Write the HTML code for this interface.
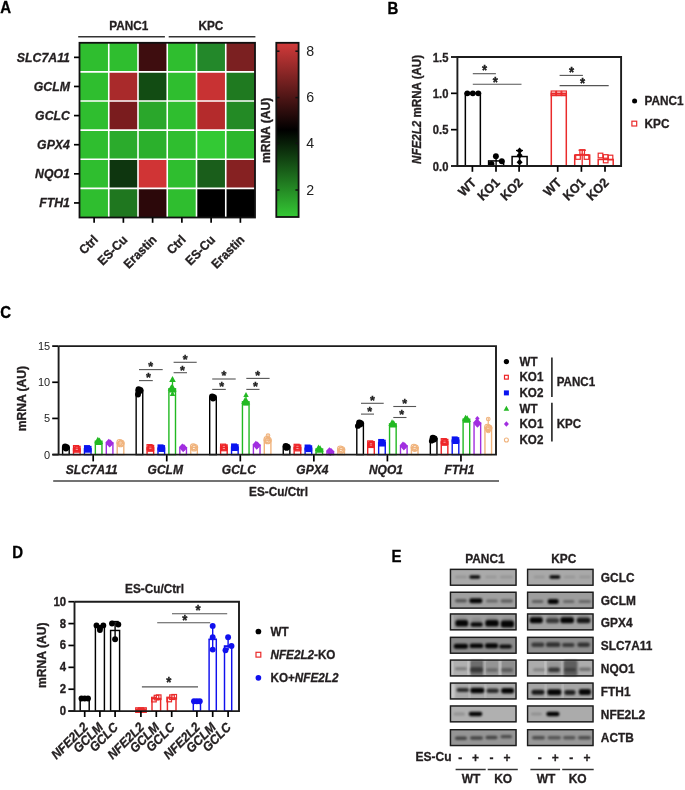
<!DOCTYPE html><html><head><meta charset="utf-8"><title>Figure</title><style>html,body{margin:0;padding:0;background:#fff;}svg{display:block;font-family:'Liberation Sans', Arial, Helvetica, sans-serif;}</style></head><body>
<svg width="685" height="790" viewBox="0 0 685 790">
<rect width="685" height="790" fill="#fff"/>
<text x="0.00" y="0.00" font-size="15.0" font-weight="bold" text-anchor="start" fill="#000" stroke="#000" stroke-width="0.3" transform="translate(0.30,13.40) scale(1,1.06)">A</text>
<rect x="79.50" y="42.80" width="29.25" height="29.12" fill="#2fbe2f" stroke="none" stroke-width="1.5"/>
<rect x="108.75" y="42.80" width="29.25" height="29.12" fill="#2fbe2f" stroke="none" stroke-width="1.5"/>
<rect x="138.00" y="42.80" width="29.25" height="29.12" fill="#3e0d0f" stroke="none" stroke-width="1.5"/>
<rect x="167.25" y="42.80" width="29.25" height="29.12" fill="#2fbe2f" stroke="none" stroke-width="1.5"/>
<rect x="196.50" y="42.80" width="29.25" height="29.12" fill="#23882a" stroke="none" stroke-width="1.5"/>
<rect x="225.75" y="42.80" width="29.25" height="29.12" fill="#7b2021" stroke="none" stroke-width="1.5"/>
<rect x="79.50" y="71.92" width="29.25" height="29.12" fill="#2fbe2f" stroke="none" stroke-width="1.5"/>
<rect x="108.75" y="71.92" width="29.25" height="29.12" fill="#a92a2b" stroke="none" stroke-width="1.5"/>
<rect x="138.00" y="71.92" width="29.25" height="29.12" fill="#124c13" stroke="none" stroke-width="1.5"/>
<rect x="167.25" y="71.92" width="29.25" height="29.12" fill="#2fbe2f" stroke="none" stroke-width="1.5"/>
<rect x="196.50" y="71.92" width="29.25" height="29.12" fill="#c83233" stroke="none" stroke-width="1.5"/>
<rect x="225.75" y="71.92" width="29.25" height="29.12" fill="#1f7a20" stroke="none" stroke-width="1.5"/>
<rect x="79.50" y="101.03" width="29.25" height="29.12" fill="#2fbe2f" stroke="none" stroke-width="1.5"/>
<rect x="108.75" y="101.03" width="29.25" height="29.12" fill="#7a1c1e" stroke="none" stroke-width="1.5"/>
<rect x="138.00" y="101.03" width="29.25" height="29.12" fill="#2aa72b" stroke="none" stroke-width="1.5"/>
<rect x="167.25" y="101.03" width="29.25" height="29.12" fill="#2fbe2f" stroke="none" stroke-width="1.5"/>
<rect x="196.50" y="101.03" width="29.25" height="29.12" fill="#b42b2c" stroke="none" stroke-width="1.5"/>
<rect x="225.75" y="101.03" width="29.25" height="29.12" fill="#238a25" stroke="none" stroke-width="1.5"/>
<rect x="79.50" y="130.15" width="29.25" height="29.12" fill="#2fbe2f" stroke="none" stroke-width="1.5"/>
<rect x="108.75" y="130.15" width="29.25" height="29.12" fill="#2bab2c" stroke="none" stroke-width="1.5"/>
<rect x="138.00" y="130.15" width="29.25" height="29.12" fill="#2bb02c" stroke="none" stroke-width="1.5"/>
<rect x="167.25" y="130.15" width="29.25" height="29.12" fill="#2fbe2f" stroke="none" stroke-width="1.5"/>
<rect x="196.50" y="130.15" width="29.25" height="29.12" fill="#33c934" stroke="none" stroke-width="1.5"/>
<rect x="225.75" y="130.15" width="29.25" height="29.12" fill="#2cb72d" stroke="none" stroke-width="1.5"/>
<rect x="79.50" y="159.27" width="29.25" height="29.12" fill="#2fbe2f" stroke="none" stroke-width="1.5"/>
<rect x="108.75" y="159.27" width="29.25" height="29.12" fill="#0e360f" stroke="none" stroke-width="1.5"/>
<rect x="138.00" y="159.27" width="29.25" height="29.12" fill="#d03435" stroke="none" stroke-width="1.5"/>
<rect x="167.25" y="159.27" width="29.25" height="29.12" fill="#2fbe2f" stroke="none" stroke-width="1.5"/>
<rect x="196.50" y="159.27" width="29.25" height="29.12" fill="#1a5e1b" stroke="none" stroke-width="1.5"/>
<rect x="225.75" y="159.27" width="29.25" height="29.12" fill="#862122" stroke="none" stroke-width="1.5"/>
<rect x="79.50" y="188.38" width="29.25" height="29.12" fill="#2fbe2f" stroke="none" stroke-width="1.5"/>
<rect x="108.75" y="188.38" width="29.25" height="29.12" fill="#1f771f" stroke="none" stroke-width="1.5"/>
<rect x="138.00" y="188.38" width="29.25" height="29.12" fill="#2c080a" stroke="none" stroke-width="1.5"/>
<rect x="167.25" y="188.38" width="29.25" height="29.12" fill="#2fbe2f" stroke="none" stroke-width="1.5"/>
<rect x="196.50" y="188.38" width="29.25" height="29.12" fill="#000000" stroke="none" stroke-width="1.5"/>
<rect x="225.75" y="188.38" width="29.25" height="29.12" fill="#000000" stroke="none" stroke-width="1.5"/>
<line x1="108.75" y1="42.80" x2="108.75" y2="217.50" stroke="#fff" stroke-width="1.6"/>
<line x1="138.00" y1="42.80" x2="138.00" y2="217.50" stroke="#fff" stroke-width="1.6"/>
<line x1="167.25" y1="42.80" x2="167.25" y2="217.50" stroke="#fff" stroke-width="1.6"/>
<line x1="196.50" y1="42.80" x2="196.50" y2="217.50" stroke="#fff" stroke-width="1.6"/>
<line x1="225.75" y1="42.80" x2="225.75" y2="217.50" stroke="#fff" stroke-width="1.6"/>
<line x1="79.50" y1="71.92" x2="255.00" y2="71.92" stroke="#fff" stroke-width="1.6"/>
<line x1="79.50" y1="101.03" x2="255.00" y2="101.03" stroke="#fff" stroke-width="1.6"/>
<line x1="79.50" y1="130.15" x2="255.00" y2="130.15" stroke="#fff" stroke-width="1.6"/>
<line x1="79.50" y1="159.27" x2="255.00" y2="159.27" stroke="#fff" stroke-width="1.6"/>
<line x1="79.50" y1="188.38" x2="255.00" y2="188.38" stroke="#fff" stroke-width="1.6"/>
<rect x="79.50" y="42.80" width="175.50" height="174.70" fill="none" stroke="#111" stroke-width="1.8"/>
<line x1="74.00" y1="57.36" x2="79.50" y2="57.36" stroke="#000" stroke-width="1.7"/>
<text x="0.00" y="0.00" font-size="12.3" font-weight="bold" font-style="italic" text-anchor="end" fill="#231f20" stroke="#231f20" stroke-width="0.3" transform="translate(69.90,61.66) scale(1,1.06)">SLC7A11</text>
<line x1="74.00" y1="86.47" x2="79.50" y2="86.47" stroke="#000" stroke-width="1.7"/>
<text x="0.00" y="0.00" font-size="12.3" font-weight="bold" font-style="italic" text-anchor="end" fill="#231f20" stroke="#231f20" stroke-width="0.3" transform="translate(69.90,90.77) scale(1,1.06)">GCLM</text>
<line x1="74.00" y1="115.59" x2="79.50" y2="115.59" stroke="#000" stroke-width="1.7"/>
<text x="0.00" y="0.00" font-size="12.3" font-weight="bold" font-style="italic" text-anchor="end" fill="#231f20" stroke="#231f20" stroke-width="0.3" transform="translate(69.90,119.89) scale(1,1.06)">GCLC</text>
<line x1="74.00" y1="144.71" x2="79.50" y2="144.71" stroke="#000" stroke-width="1.7"/>
<text x="0.00" y="0.00" font-size="12.3" font-weight="bold" font-style="italic" text-anchor="end" fill="#231f20" stroke="#231f20" stroke-width="0.3" transform="translate(69.90,149.01) scale(1,1.06)">GPX4</text>
<line x1="74.00" y1="173.82" x2="79.50" y2="173.82" stroke="#000" stroke-width="1.7"/>
<text x="0.00" y="0.00" font-size="12.3" font-weight="bold" font-style="italic" text-anchor="end" fill="#231f20" stroke="#231f20" stroke-width="0.3" transform="translate(69.90,178.12) scale(1,1.06)">NQO1</text>
<line x1="74.00" y1="202.94" x2="79.50" y2="202.94" stroke="#000" stroke-width="1.7"/>
<text x="0.00" y="0.00" font-size="12.3" font-weight="bold" font-style="italic" text-anchor="end" fill="#231f20" stroke="#231f20" stroke-width="0.3" transform="translate(69.90,207.24) scale(1,1.06)">FTH1</text>
<line x1="94.12" y1="217.50" x2="94.12" y2="222.80" stroke="#000" stroke-width="1.7"/>
<text x="0.00" y="0.00" font-size="12.0" font-weight="bold" text-anchor="end" fill="#231f20" stroke="#231f20" stroke-width="0.3" transform="translate(98.92,240.50) rotate(-45) scale(1,1.06)">Ctrl</text>
<line x1="123.38" y1="217.50" x2="123.38" y2="222.80" stroke="#000" stroke-width="1.7"/>
<text x="0.00" y="0.00" font-size="12.0" font-weight="bold" text-anchor="end" fill="#231f20" stroke="#231f20" stroke-width="0.3" transform="translate(128.18,240.50) rotate(-45) scale(1,1.06)">ES-Cu</text>
<line x1="152.62" y1="217.50" x2="152.62" y2="222.80" stroke="#000" stroke-width="1.7"/>
<text x="0.00" y="0.00" font-size="12.0" font-weight="bold" text-anchor="end" fill="#231f20" stroke="#231f20" stroke-width="0.3" transform="translate(157.43,240.50) rotate(-45) scale(1,1.06)">Erastin</text>
<line x1="181.88" y1="217.50" x2="181.88" y2="222.80" stroke="#000" stroke-width="1.7"/>
<text x="0.00" y="0.00" font-size="12.0" font-weight="bold" text-anchor="end" fill="#231f20" stroke="#231f20" stroke-width="0.3" transform="translate(186.68,240.50) rotate(-45) scale(1,1.06)">Ctrl</text>
<line x1="211.12" y1="217.50" x2="211.12" y2="222.80" stroke="#000" stroke-width="1.7"/>
<text x="0.00" y="0.00" font-size="12.0" font-weight="bold" text-anchor="end" fill="#231f20" stroke="#231f20" stroke-width="0.3" transform="translate(215.93,240.50) rotate(-45) scale(1,1.06)">ES-Cu</text>
<line x1="240.38" y1="217.50" x2="240.38" y2="222.80" stroke="#000" stroke-width="1.7"/>
<text x="0.00" y="0.00" font-size="12.0" font-weight="bold" text-anchor="end" fill="#231f20" stroke="#231f20" stroke-width="0.3" transform="translate(245.18,240.50) rotate(-45) scale(1,1.06)">Erastin</text>
<line x1="78.20" y1="36.70" x2="164.90" y2="36.70" stroke="#333" stroke-width="1.5"/>
<line x1="168.70" y1="36.70" x2="255.40" y2="36.70" stroke="#333" stroke-width="1.5"/>
<text x="0.00" y="0.00" font-size="11.8" font-weight="bold" text-anchor="middle" fill="#231f20" stroke="#231f20" stroke-width="0.3" transform="translate(128.80,30.40) scale(1,1.06)">PANC1</text>
<text x="0.00" y="0.00" font-size="11.8" font-weight="bold" text-anchor="middle" fill="#231f20" stroke="#231f20" stroke-width="0.3" transform="translate(210.90,30.40) scale(1,1.06)">KPC</text>
<defs><linearGradient id="cbg" x1="0" y1="1" x2="0" y2="0"><stop offset="0" stop-color="#35c935"/><stop offset="0.5" stop-color="#000000"/><stop offset="1" stop-color="#d23a3a"/></linearGradient></defs>
<rect x="276.30" y="42.80" width="22.30" height="174.20" fill="url(#cbg)" stroke="#111" stroke-width="1.8"/>
<line x1="276.30" y1="51.20" x2="279.50" y2="51.20" stroke="#111" stroke-width="1.5"/>
<line x1="295.40" y1="51.20" x2="298.60" y2="51.20" stroke="#111" stroke-width="1.5"/>
<text x="0.00" y="0.00" font-size="14.2" text-anchor="start" fill="#222" transform="translate(306.30,55.80) scale(1,1.06)">8</text>
<line x1="276.30" y1="97.60" x2="279.50" y2="97.60" stroke="#111" stroke-width="1.5"/>
<line x1="295.40" y1="97.60" x2="298.60" y2="97.60" stroke="#111" stroke-width="1.5"/>
<text x="0.00" y="0.00" font-size="14.2" text-anchor="start" fill="#222" transform="translate(306.30,102.20) scale(1,1.06)">6</text>
<line x1="276.30" y1="143.40" x2="279.50" y2="143.40" stroke="#111" stroke-width="1.5"/>
<line x1="295.40" y1="143.40" x2="298.60" y2="143.40" stroke="#111" stroke-width="1.5"/>
<text x="0.00" y="0.00" font-size="14.2" text-anchor="start" fill="#222" transform="translate(306.30,148.00) scale(1,1.06)">4</text>
<line x1="276.30" y1="190.00" x2="279.50" y2="190.00" stroke="#111" stroke-width="1.5"/>
<line x1="295.40" y1="190.00" x2="298.60" y2="190.00" stroke="#111" stroke-width="1.5"/>
<text x="0.00" y="0.00" font-size="14.2" text-anchor="start" fill="#222" transform="translate(306.30,194.60) scale(1,1.06)">2</text>
<text x="0.00" y="0.00" font-size="12.1" font-weight="bold" text-anchor="middle" fill="#231f20" stroke="#231f20" stroke-width="0.3" transform="translate(270.00,130.40) rotate(-90) scale(1,1.06)">mRNA (AU)</text>
<text x="0.00" y="0.00" font-size="15.0" font-weight="bold" text-anchor="start" fill="#000" stroke="#000" stroke-width="0.3" transform="translate(387.50,13.80) scale(1,1.06)">B</text>
<line x1="451.00" y1="166.00" x2="457.40" y2="166.00" stroke="#000" stroke-width="1.7"/>
<text x="0.00" y="0.00" font-size="11.2" font-weight="bold" text-anchor="end" fill="#231f20" stroke="#231f20" stroke-width="0.3" transform="translate(448.40,170.70) scale(1,1.06)">0.0</text>
<line x1="451.00" y1="129.67" x2="457.40" y2="129.67" stroke="#000" stroke-width="1.7"/>
<text x="0.00" y="0.00" font-size="11.2" font-weight="bold" text-anchor="end" fill="#231f20" stroke="#231f20" stroke-width="0.3" transform="translate(448.40,134.37) scale(1,1.06)">0.5</text>
<line x1="451.00" y1="93.33" x2="457.40" y2="93.33" stroke="#000" stroke-width="1.7"/>
<text x="0.00" y="0.00" font-size="11.2" font-weight="bold" text-anchor="end" fill="#231f20" stroke="#231f20" stroke-width="0.3" transform="translate(448.40,98.03) scale(1,1.06)">1.0</text>
<line x1="451.00" y1="57.00" x2="457.40" y2="57.00" stroke="#000" stroke-width="1.7"/>
<text x="0.00" y="0.00" font-size="11.2" font-weight="bold" text-anchor="end" fill="#231f20" stroke="#231f20" stroke-width="0.3" transform="translate(448.40,61.70) scale(1,1.06)">1.5</text>
<text transform="translate(420.6,109.4) rotate(-90) scale(1,1.06)" font-size="11.6" font-weight="bold" text-anchor="middle" fill="#231f20" stroke="#231f20" stroke-width="0.3"><tspan font-style="italic">NFE2L2</tspan> mRNA (AU)</text>
<rect x="465.35" y="93.33" width="15.00" height="72.67" fill="none" stroke="#000" stroke-width="1.5"/>
<rect x="488.60" y="160.91" width="15.00" height="5.09" fill="none" stroke="#000" stroke-width="1.5"/>
<rect x="512.10" y="156.55" width="15.00" height="9.45" fill="none" stroke="#000" stroke-width="1.5"/>
<rect x="551.30" y="93.33" width="15.00" height="72.67" fill="none" stroke="#ea2b2b" stroke-width="1.5"/>
<rect x="574.70" y="155.10" width="15.00" height="10.90" fill="none" stroke="#ea2b2b" stroke-width="1.5"/>
<rect x="598.20" y="159.46" width="15.00" height="6.54" fill="none" stroke="#ea2b2b" stroke-width="1.5"/>
<circle cx="467.30" cy="93.33" r="2.94" fill="#000"/>
<circle cx="472.80" cy="93.33" r="2.94" fill="#000"/>
<circle cx="478.30" cy="93.33" r="2.94" fill="#000"/>
<circle cx="491.50" cy="164.00" r="2.94" fill="#000"/>
<circle cx="495.90" cy="156.20" r="2.94" fill="#000"/>
<circle cx="501.80" cy="161.20" r="2.94" fill="#000"/>
<line x1="496.10" y1="156.20" x2="496.10" y2="166.00" stroke="#000" stroke-width="1.3"/>
<polygon points="519.60,147.50 522.60,150.80 519.60,154.10 516.60,150.80" fill="#000"/>
<polygon points="519.60,152.00 522.60,155.30 519.60,158.60 516.60,155.30" fill="#000"/>
<polygon points="519.60,158.90 522.60,162.20 519.60,165.50 516.60,162.20" fill="#000"/>
<line x1="519.60" y1="150.00" x2="519.60" y2="163.00" stroke="#000" stroke-width="1.5"/>
<line x1="516.00" y1="150.50" x2="523.00" y2="150.50" stroke="#000" stroke-width="1.3"/>
<rect x="551.20" y="91.03" width="4.60" height="4.60" fill="none" stroke="#ea2b2b" stroke-width="1.2"/>
<rect x="556.50" y="91.03" width="4.60" height="4.60" fill="none" stroke="#ea2b2b" stroke-width="1.2"/>
<rect x="561.80" y="91.03" width="4.60" height="4.60" fill="none" stroke="#ea2b2b" stroke-width="1.2"/>
<line x1="552.00" y1="94.83" x2="566.00" y2="94.83" stroke="#ea2b2b" stroke-width="1.2"/>
<rect x="579.90" y="149.70" width="4.60" height="4.60" fill="none" stroke="#ea2b2b" stroke-width="1.2"/>
<rect x="575.70" y="154.70" width="4.60" height="4.60" fill="none" stroke="#ea2b2b" stroke-width="1.2"/>
<rect x="584.20" y="154.70" width="4.60" height="4.60" fill="none" stroke="#ea2b2b" stroke-width="1.2"/>
<line x1="582.20" y1="150.00" x2="582.20" y2="166.00" stroke="#ea2b2b" stroke-width="1.3"/>
<line x1="578.50" y1="150.20" x2="586.00" y2="150.20" stroke="#ea2b2b" stroke-width="1.3"/>
<rect x="598.20" y="153.20" width="4.60" height="4.60" fill="none" stroke="#ea2b2b" stroke-width="1.2"/>
<rect x="603.40" y="154.70" width="4.60" height="4.60" fill="none" stroke="#ea2b2b" stroke-width="1.2"/>
<rect x="608.20" y="155.20" width="4.60" height="4.60" fill="none" stroke="#ea2b2b" stroke-width="1.2"/>
<rect x="603.40" y="158.20" width="4.60" height="4.60" fill="none" stroke="#ea2b2b" stroke-width="1.2"/>
<path d="M457.4,57.0 H621.1 V166.0 H457.4 Z" fill="none" stroke="#1c1c1c" stroke-width="1.9"/>
<line x1="472.40" y1="166.00" x2="472.40" y2="171.80" stroke="#000" stroke-width="1.7"/>
<text x="0.00" y="0.00" font-size="12.3" font-weight="bold" text-anchor="end" fill="#231f20" stroke="#231f20" stroke-width="0.3" transform="translate(477.00,183.40) rotate(-45) scale(1,1.06)">WT</text>
<line x1="496.00" y1="166.00" x2="496.00" y2="171.80" stroke="#000" stroke-width="1.7"/>
<text x="0.00" y="0.00" font-size="12.3" font-weight="bold" text-anchor="end" fill="#231f20" stroke="#231f20" stroke-width="0.3" transform="translate(500.60,183.40) rotate(-45) scale(1,1.06)">KO1</text>
<line x1="519.10" y1="166.00" x2="519.10" y2="171.80" stroke="#000" stroke-width="1.7"/>
<text x="0.00" y="0.00" font-size="12.3" font-weight="bold" text-anchor="end" fill="#231f20" stroke="#231f20" stroke-width="0.3" transform="translate(523.70,183.40) rotate(-45) scale(1,1.06)">KO2</text>
<line x1="557.70" y1="166.00" x2="557.70" y2="171.80" stroke="#000" stroke-width="1.7"/>
<text x="0.00" y="0.00" font-size="12.3" font-weight="bold" text-anchor="end" fill="#231f20" stroke="#231f20" stroke-width="0.3" transform="translate(562.30,183.40) rotate(-45) scale(1,1.06)">WT</text>
<line x1="581.40" y1="166.00" x2="581.40" y2="171.80" stroke="#000" stroke-width="1.7"/>
<text x="0.00" y="0.00" font-size="12.3" font-weight="bold" text-anchor="end" fill="#231f20" stroke="#231f20" stroke-width="0.3" transform="translate(586.00,183.40) rotate(-45) scale(1,1.06)">KO1</text>
<line x1="605.00" y1="166.00" x2="605.00" y2="171.80" stroke="#000" stroke-width="1.7"/>
<text x="0.00" y="0.00" font-size="12.3" font-weight="bold" text-anchor="end" fill="#231f20" stroke="#231f20" stroke-width="0.3" transform="translate(609.60,183.40) rotate(-45) scale(1,1.06)">KO2</text>
<line x1="472.80" y1="73.70" x2="495.90" y2="73.70" stroke="#555" stroke-width="1.1"/>
<text x="0.00" y="0.00" font-size="13.125" font-weight="bold" text-anchor="middle" fill="#222" transform="translate(484.50,75.41) scale(1,1.06)" stroke="#222" stroke-width="0.35">*</text>
<line x1="472.80" y1="84.20" x2="521.50" y2="84.20" stroke="#555" stroke-width="1.1"/>
<text x="0.00" y="0.00" font-size="13.125" font-weight="bold" text-anchor="middle" fill="#222" transform="translate(495.20,86.61) scale(1,1.06)" stroke="#222" stroke-width="0.35">*</text>
<line x1="559.60" y1="75.40" x2="582.90" y2="75.40" stroke="#555" stroke-width="1.1"/>
<text x="0.00" y="0.00" font-size="13.125" font-weight="bold" text-anchor="middle" fill="#222" transform="translate(571.50,76.61) scale(1,1.06)" stroke="#222" stroke-width="0.35">*</text>
<line x1="559.60" y1="85.60" x2="608.70" y2="85.60" stroke="#555" stroke-width="1.1"/>
<text x="0.00" y="0.00" font-size="13.125" font-weight="bold" text-anchor="middle" fill="#222" transform="translate(582.60,88.01) scale(1,1.06)" stroke="#222" stroke-width="0.35">*</text>
<circle cx="634.60" cy="100.90" r="2.52" fill="#000"/>
<text x="0.00" y="0.00" font-size="11.8" font-weight="bold" text-anchor="start" fill="#231f20" stroke="#231f20" stroke-width="0.3" transform="translate(644.60,105.00) scale(1,1.06)">PANC1</text>
<rect x="631.90" y="121.20" width="4.80" height="4.80" fill="none" stroke="#ea2b2b" stroke-width="1.2"/>
<text x="0.00" y="0.00" font-size="11.8" font-weight="bold" text-anchor="start" fill="#231f20" stroke="#231f20" stroke-width="0.3" transform="translate(644.60,127.80) scale(1,1.06)">KPC</text>
<text x="0.00" y="0.00" font-size="15.0" font-weight="bold" text-anchor="start" fill="#000" stroke="#000" stroke-width="0.3" transform="translate(0.30,317.70) scale(1,1.06)">C</text>
<line x1="52.20" y1="454.60" x2="58.60" y2="454.60" stroke="#000" stroke-width="1.7"/>
<text x="0.00" y="0.00" font-size="11.0" text-anchor="end" fill="#222" transform="translate(50.20,458.50) scale(1,1.06)">0</text>
<line x1="52.20" y1="418.43" x2="58.60" y2="418.43" stroke="#000" stroke-width="1.7"/>
<text x="0.00" y="0.00" font-size="11.0" text-anchor="end" fill="#222" transform="translate(50.20,422.33) scale(1,1.06)">5</text>
<line x1="52.20" y1="382.27" x2="58.60" y2="382.27" stroke="#000" stroke-width="1.7"/>
<text x="0.00" y="0.00" font-size="11.0" text-anchor="end" fill="#222" transform="translate(50.20,386.17) scale(1,1.06)">10</text>
<line x1="52.20" y1="346.10" x2="58.60" y2="346.10" stroke="#000" stroke-width="1.7"/>
<text x="0.00" y="0.00" font-size="11.0" text-anchor="end" fill="#222" transform="translate(50.20,350.00) scale(1,1.06)">15</text>
<text x="0.00" y="0.00" font-size="12.1" font-weight="bold" text-anchor="middle" fill="#231f20" stroke="#231f20" stroke-width="0.3" transform="translate(26.20,398.60) rotate(-90) scale(1,1.06)">mRNA (AU)</text>
<rect x="62.60" y="447.37" width="6.60" height="7.23" fill="none" stroke="#000000" stroke-width="1.4"/>
<circle cx="65.10" cy="446.64" r="3.15" fill="#000000"/>
<circle cx="66.70" cy="447.37" r="3.15" fill="#000000"/>
<circle cx="65.90" cy="448.23" r="3.15" fill="#000000"/>
<rect x="73.50" y="448.81" width="6.60" height="5.79" fill="none" stroke="#ee2326" stroke-width="1.4"/>
<rect x="73.50" y="445.59" width="5.00" height="5.00" fill="none" stroke="#ee2326" stroke-width="1.2"/>
<rect x="75.10" y="446.31" width="5.00" height="5.00" fill="none" stroke="#ee2326" stroke-width="1.2"/>
<rect x="74.30" y="447.18" width="5.00" height="5.00" fill="none" stroke="#ee2326" stroke-width="1.2"/>
<rect x="84.45" y="448.81" width="6.60" height="5.79" fill="none" stroke="#0a14f0" stroke-width="1.4"/>
<rect x="83.95" y="445.09" width="6.00" height="6.00" fill="#0a14f0"/>
<rect x="85.55" y="445.81" width="6.00" height="6.00" fill="#0a14f0"/>
<rect x="84.75" y="446.68" width="6.00" height="6.00" fill="#0a14f0"/>
<rect x="95.35" y="441.22" width="6.60" height="13.38" fill="none" stroke="#22b922" stroke-width="1.4"/>
<polygon points="97.85,436.70 101.48,443.30 94.22,443.30" fill="#22b922"/>
<polygon points="99.45,437.42 103.08,444.02 95.82,444.02" fill="#22b922"/>
<polygon points="98.65,438.29 102.28,444.89 95.02,444.89" fill="#22b922"/>
<rect x="106.30" y="443.03" width="6.60" height="11.57" fill="none" stroke="#a12ee0" stroke-width="1.4"/>
<polygon points="108.80,438.67 112.10,442.30 108.80,445.93 105.50,442.30" fill="#a12ee0"/>
<polygon points="110.40,439.40 113.70,443.03 110.40,446.66 107.10,443.03" fill="#a12ee0"/>
<polygon points="109.60,440.26 112.90,443.89 109.60,447.52 106.30,443.89" fill="#a12ee0"/>
<rect x="117.20" y="443.03" width="6.60" height="11.57" fill="none" stroke="#f0b37c" stroke-width="1.4"/>
<circle cx="119.70" cy="442.30" r="2.80" fill="none" stroke="#f0b37c" stroke-width="1.1"/>
<circle cx="121.30" cy="443.03" r="2.80" fill="none" stroke="#f0b37c" stroke-width="1.1"/>
<circle cx="120.50" cy="443.89" r="2.80" fill="none" stroke="#f0b37c" stroke-width="1.1"/>
<line x1="93.20" y1="454.60" x2="93.20" y2="461.40" stroke="#000" stroke-width="1.7"/>
<text x="0.00" y="0.00" font-size="12.0" font-weight="bold" font-style="italic" text-anchor="middle" fill="#231f20" stroke="#231f20" stroke-width="0.3" transform="translate(91.70,473.70) scale(1,1.06)">SLC7A11</text>
<rect x="136.15" y="390.22" width="6.60" height="64.38" fill="none" stroke="#000000" stroke-width="1.4"/>
<circle cx="138.65" cy="389.50" r="3.15" fill="#000000"/>
<circle cx="140.25" cy="390.22" r="3.15" fill="#000000"/>
<circle cx="139.45" cy="391.09" r="3.15" fill="#000000"/>
<rect x="147.05" y="447.87" width="6.60" height="6.73" fill="none" stroke="#ee2326" stroke-width="1.4"/>
<rect x="147.05" y="444.65" width="5.00" height="5.00" fill="none" stroke="#ee2326" stroke-width="1.2"/>
<rect x="148.65" y="445.37" width="5.00" height="5.00" fill="none" stroke="#ee2326" stroke-width="1.2"/>
<rect x="147.85" y="446.24" width="5.00" height="5.00" fill="none" stroke="#ee2326" stroke-width="1.2"/>
<rect x="158.00" y="448.09" width="6.60" height="6.51" fill="none" stroke="#0a14f0" stroke-width="1.4"/>
<rect x="157.50" y="444.37" width="6.00" height="6.00" fill="#0a14f0"/>
<rect x="159.10" y="445.09" width="6.00" height="6.00" fill="#0a14f0"/>
<rect x="158.30" y="445.96" width="6.00" height="6.00" fill="#0a14f0"/>
<rect x="168.90" y="388.78" width="6.60" height="65.82" fill="none" stroke="#22b922" stroke-width="1.4"/>
<polygon points="171.40,384.26 175.03,390.86 167.77,390.86" fill="#22b922"/>
<polygon points="173.00,384.98 176.63,391.58 169.37,391.58" fill="#22b922"/>
<polygon points="172.20,385.85 175.83,392.45 168.57,392.45" fill="#22b922"/>
<rect x="179.85" y="447.73" width="6.60" height="6.87" fill="none" stroke="#a12ee0" stroke-width="1.4"/>
<polygon points="182.35,443.38 185.65,447.00 182.35,450.63 179.05,447.00" fill="#a12ee0"/>
<polygon points="183.95,444.10 187.25,447.73 183.95,451.36 180.65,447.73" fill="#a12ee0"/>
<polygon points="183.15,444.97 186.45,448.60 183.15,452.23 179.85,448.60" fill="#a12ee0"/>
<rect x="190.75" y="447.37" width="6.60" height="7.23" fill="none" stroke="#f0b37c" stroke-width="1.4"/>
<circle cx="193.25" cy="446.64" r="2.80" fill="none" stroke="#f0b37c" stroke-width="1.1"/>
<circle cx="194.85" cy="447.37" r="2.80" fill="none" stroke="#f0b37c" stroke-width="1.1"/>
<circle cx="194.05" cy="448.23" r="2.80" fill="none" stroke="#f0b37c" stroke-width="1.1"/>
<line x1="166.75" y1="454.60" x2="166.75" y2="461.40" stroke="#000" stroke-width="1.7"/>
<text x="0.00" y="0.00" font-size="12.0" font-weight="bold" font-style="italic" text-anchor="middle" fill="#231f20" stroke="#231f20" stroke-width="0.3" transform="translate(165.25,473.70) scale(1,1.06)">GCLM</text>
<rect x="209.70" y="397.46" width="6.60" height="57.14" fill="none" stroke="#000000" stroke-width="1.4"/>
<circle cx="212.20" cy="396.73" r="3.15" fill="#000000"/>
<circle cx="213.80" cy="397.46" r="3.15" fill="#000000"/>
<circle cx="213.00" cy="398.32" r="3.15" fill="#000000"/>
<rect x="220.60" y="447.37" width="6.60" height="7.23" fill="none" stroke="#ee2326" stroke-width="1.4"/>
<rect x="220.60" y="444.14" width="5.00" height="5.00" fill="none" stroke="#ee2326" stroke-width="1.2"/>
<rect x="222.20" y="444.87" width="5.00" height="5.00" fill="none" stroke="#ee2326" stroke-width="1.2"/>
<rect x="221.40" y="445.73" width="5.00" height="5.00" fill="none" stroke="#ee2326" stroke-width="1.2"/>
<rect x="231.55" y="447.15" width="6.60" height="7.45" fill="none" stroke="#0a14f0" stroke-width="1.4"/>
<rect x="231.05" y="443.43" width="6.00" height="6.00" fill="#0a14f0"/>
<rect x="232.65" y="444.15" width="6.00" height="6.00" fill="#0a14f0"/>
<rect x="231.85" y="445.02" width="6.00" height="6.00" fill="#0a14f0"/>
<rect x="242.45" y="401.80" width="6.60" height="52.80" fill="none" stroke="#22b922" stroke-width="1.4"/>
<polygon points="244.95,397.28 248.58,403.88 241.32,403.88" fill="#22b922"/>
<polygon points="246.55,398.00 250.18,404.60 242.92,404.60" fill="#22b922"/>
<polygon points="245.75,398.87 249.38,405.47 242.12,405.47" fill="#22b922"/>
<rect x="253.40" y="445.20" width="6.60" height="9.40" fill="none" stroke="#a12ee0" stroke-width="1.4"/>
<polygon points="255.90,440.84 259.20,444.47 255.90,448.10 252.60,444.47" fill="#a12ee0"/>
<polygon points="257.50,441.57 260.80,445.20 257.50,448.83 254.20,445.20" fill="#a12ee0"/>
<polygon points="256.70,442.43 260.00,446.06 256.70,449.69 253.40,446.06" fill="#a12ee0"/>
<rect x="264.30" y="440.13" width="6.60" height="14.47" fill="none" stroke="#f0b37c" stroke-width="1.4"/>
<circle cx="266.80" cy="439.41" r="2.80" fill="none" stroke="#f0b37c" stroke-width="1.1"/>
<circle cx="268.40" cy="440.13" r="2.80" fill="none" stroke="#f0b37c" stroke-width="1.1"/>
<circle cx="267.60" cy="441.00" r="2.80" fill="none" stroke="#f0b37c" stroke-width="1.1"/>
<line x1="240.30" y1="454.60" x2="240.30" y2="461.40" stroke="#000" stroke-width="1.7"/>
<text x="0.00" y="0.00" font-size="12.0" font-weight="bold" font-style="italic" text-anchor="middle" fill="#231f20" stroke="#231f20" stroke-width="0.3" transform="translate(238.80,473.70) scale(1,1.06)">GCLC</text>
<rect x="283.25" y="446.79" width="6.60" height="7.81" fill="none" stroke="#000000" stroke-width="1.4"/>
<circle cx="285.75" cy="446.06" r="3.15" fill="#000000"/>
<circle cx="287.35" cy="446.79" r="3.15" fill="#000000"/>
<circle cx="286.55" cy="447.66" r="3.15" fill="#000000"/>
<rect x="294.15" y="447.51" width="6.60" height="7.09" fill="none" stroke="#ee2326" stroke-width="1.4"/>
<rect x="294.15" y="444.29" width="5.00" height="5.00" fill="none" stroke="#ee2326" stroke-width="1.2"/>
<rect x="295.75" y="445.01" width="5.00" height="5.00" fill="none" stroke="#ee2326" stroke-width="1.2"/>
<rect x="294.95" y="445.88" width="5.00" height="5.00" fill="none" stroke="#ee2326" stroke-width="1.2"/>
<rect x="305.10" y="448.23" width="6.60" height="6.37" fill="none" stroke="#0a14f0" stroke-width="1.4"/>
<rect x="304.60" y="444.51" width="6.00" height="6.00" fill="#0a14f0"/>
<rect x="306.20" y="445.23" width="6.00" height="6.00" fill="#0a14f0"/>
<rect x="305.40" y="446.10" width="6.00" height="6.00" fill="#0a14f0"/>
<rect x="316.00" y="448.96" width="6.60" height="5.64" fill="none" stroke="#22b922" stroke-width="1.4"/>
<polygon points="318.50,444.44 322.13,451.04 314.87,451.04" fill="#22b922"/>
<polygon points="320.10,445.16 323.73,451.76 316.47,451.76" fill="#22b922"/>
<polygon points="319.30,446.03 322.93,452.63 315.67,452.63" fill="#22b922"/>
<rect x="326.95" y="451.56" width="6.60" height="3.04" fill="none" stroke="#a12ee0" stroke-width="1.4"/>
<polygon points="329.45,447.21 332.75,450.84 329.45,454.47 326.15,450.84" fill="#a12ee0"/>
<polygon points="331.05,447.93 334.35,451.56 331.05,455.19 327.75,451.56" fill="#a12ee0"/>
<polygon points="330.25,448.80 333.55,452.43 330.25,456.06 326.95,452.43" fill="#a12ee0"/>
<rect x="337.85" y="449.54" width="6.60" height="5.06" fill="none" stroke="#f0b37c" stroke-width="1.4"/>
<circle cx="340.35" cy="448.81" r="2.80" fill="none" stroke="#f0b37c" stroke-width="1.1"/>
<circle cx="341.95" cy="449.54" r="2.80" fill="none" stroke="#f0b37c" stroke-width="1.1"/>
<circle cx="341.15" cy="450.40" r="2.80" fill="none" stroke="#f0b37c" stroke-width="1.1"/>
<line x1="313.85" y1="454.60" x2="313.85" y2="461.40" stroke="#000" stroke-width="1.7"/>
<text x="0.00" y="0.00" font-size="12.0" font-weight="bold" font-style="italic" text-anchor="middle" fill="#231f20" stroke="#231f20" stroke-width="0.3" transform="translate(312.35,473.70) scale(1,1.06)">GPX4</text>
<rect x="356.80" y="423.50" width="6.60" height="31.10" fill="none" stroke="#000000" stroke-width="1.4"/>
<circle cx="359.30" cy="422.77" r="3.15" fill="#000000"/>
<circle cx="360.90" cy="423.50" r="3.15" fill="#000000"/>
<circle cx="360.10" cy="424.36" r="3.15" fill="#000000"/>
<rect x="367.70" y="444.11" width="6.60" height="10.49" fill="none" stroke="#ee2326" stroke-width="1.4"/>
<rect x="367.70" y="440.89" width="5.00" height="5.00" fill="none" stroke="#ee2326" stroke-width="1.2"/>
<rect x="369.30" y="441.61" width="5.00" height="5.00" fill="none" stroke="#ee2326" stroke-width="1.2"/>
<rect x="368.50" y="442.48" width="5.00" height="5.00" fill="none" stroke="#ee2326" stroke-width="1.2"/>
<rect x="378.65" y="442.67" width="6.60" height="11.94" fill="none" stroke="#0a14f0" stroke-width="1.4"/>
<rect x="378.15" y="438.94" width="6.00" height="6.00" fill="#0a14f0"/>
<rect x="379.75" y="439.67" width="6.00" height="6.00" fill="#0a14f0"/>
<rect x="378.95" y="440.53" width="6.00" height="6.00" fill="#0a14f0"/>
<rect x="389.55" y="423.86" width="6.60" height="30.74" fill="none" stroke="#22b922" stroke-width="1.4"/>
<polygon points="392.05,419.34 395.68,425.94 388.42,425.94" fill="#22b922"/>
<polygon points="393.65,420.06 397.28,426.66 390.02,426.66" fill="#22b922"/>
<polygon points="392.85,420.93 396.48,427.53 389.22,427.53" fill="#22b922"/>
<rect x="400.50" y="445.92" width="6.60" height="8.68" fill="none" stroke="#a12ee0" stroke-width="1.4"/>
<polygon points="403.00,441.57 406.30,445.20 403.00,448.83 399.70,445.20" fill="#a12ee0"/>
<polygon points="404.60,442.29 407.90,445.92 404.60,449.55 401.30,445.92" fill="#a12ee0"/>
<polygon points="403.80,443.16 407.10,446.79 403.80,450.42 400.50,446.79" fill="#a12ee0"/>
<rect x="411.40" y="447.73" width="6.60" height="6.87" fill="none" stroke="#f0b37c" stroke-width="1.4"/>
<circle cx="413.90" cy="447.00" r="2.80" fill="none" stroke="#f0b37c" stroke-width="1.1"/>
<circle cx="415.50" cy="447.73" r="2.80" fill="none" stroke="#f0b37c" stroke-width="1.1"/>
<circle cx="414.70" cy="448.60" r="2.80" fill="none" stroke="#f0b37c" stroke-width="1.1"/>
<line x1="387.40" y1="454.60" x2="387.40" y2="461.40" stroke="#000" stroke-width="1.7"/>
<text x="0.00" y="0.00" font-size="12.0" font-weight="bold" font-style="italic" text-anchor="middle" fill="#231f20" stroke="#231f20" stroke-width="0.3" transform="translate(385.90,473.70) scale(1,1.06)">NQO1</text>
<rect x="430.35" y="438.69" width="6.60" height="15.91" fill="none" stroke="#000000" stroke-width="1.4"/>
<circle cx="432.85" cy="437.96" r="3.15" fill="#000000"/>
<circle cx="434.45" cy="438.69" r="3.15" fill="#000000"/>
<circle cx="433.65" cy="439.55" r="3.15" fill="#000000"/>
<rect x="441.25" y="441.87" width="6.60" height="12.73" fill="none" stroke="#ee2326" stroke-width="1.4"/>
<rect x="441.25" y="438.65" width="5.00" height="5.00" fill="none" stroke="#ee2326" stroke-width="1.2"/>
<rect x="442.85" y="439.37" width="5.00" height="5.00" fill="none" stroke="#ee2326" stroke-width="1.2"/>
<rect x="442.05" y="440.24" width="5.00" height="5.00" fill="none" stroke="#ee2326" stroke-width="1.2"/>
<rect x="452.20" y="440.13" width="6.60" height="14.47" fill="none" stroke="#0a14f0" stroke-width="1.4"/>
<rect x="451.70" y="436.41" width="6.00" height="6.00" fill="#0a14f0"/>
<rect x="453.30" y="437.13" width="6.00" height="6.00" fill="#0a14f0"/>
<rect x="452.50" y="438.00" width="6.00" height="6.00" fill="#0a14f0"/>
<rect x="463.10" y="419.16" width="6.60" height="35.44" fill="none" stroke="#22b922" stroke-width="1.4"/>
<polygon points="465.60,414.64 469.23,421.24 461.97,421.24" fill="#22b922"/>
<polygon points="467.20,415.36 470.83,421.96 463.57,421.96" fill="#22b922"/>
<polygon points="466.40,416.23 470.03,422.83 462.77,422.83" fill="#22b922"/>
<rect x="474.05" y="423.14" width="6.60" height="31.46" fill="none" stroke="#a12ee0" stroke-width="1.4"/>
<polygon points="476.55,418.78 479.85,422.41 476.55,426.04 473.25,422.41" fill="#a12ee0"/>
<polygon points="478.15,419.51 481.45,423.14 478.15,426.77 474.85,423.14" fill="#a12ee0"/>
<polygon points="477.35,420.37 480.65,424.00 477.35,427.63 474.05,424.00" fill="#a12ee0"/>
<rect x="484.95" y="427.84" width="6.60" height="26.76" fill="none" stroke="#f0b37c" stroke-width="1.4"/>
<circle cx="487.45" cy="427.11" r="2.80" fill="none" stroke="#f0b37c" stroke-width="1.1"/>
<circle cx="489.05" cy="427.84" r="2.80" fill="none" stroke="#f0b37c" stroke-width="1.1"/>
<circle cx="488.25" cy="428.70" r="2.80" fill="none" stroke="#f0b37c" stroke-width="1.1"/>
<line x1="460.95" y1="454.60" x2="460.95" y2="461.40" stroke="#000" stroke-width="1.7"/>
<text x="0.00" y="0.00" font-size="12.0" font-weight="bold" font-style="italic" text-anchor="middle" fill="#231f20" stroke="#231f20" stroke-width="0.3" transform="translate(459.45,473.70) scale(1,1.06)">FTH1</text>
<path d="M58.6,346.1 H496.0 V454.6 H52.6" fill="none" stroke="#1c1c1c" stroke-width="1.9"/>
<line x1="58.60" y1="346.10" x2="58.60" y2="454.60" stroke="#1c1c1c" stroke-width="1.9"/>
<circle cx="138.00" cy="394.50" r="2.94" fill="#000"/>
<circle cx="357.80" cy="426.00" r="2.84" fill="#000"/>
<circle cx="431.50" cy="441.00" r="2.62" fill="#000"/>
<line x1="172.50" y1="379.00" x2="172.50" y2="395.00" stroke="#22b922" stroke-width="1.3"/>
<polygon points="172.50,376.05 175.80,382.05 169.20,382.05" fill="#22b922"/>
<polygon points="172.50,391.12 175.25,396.12 169.75,396.12" fill="#22b922"/>
<line x1="246.00" y1="394.00" x2="246.00" y2="404.00" stroke="#22b922" stroke-width="1.3"/>
<polygon points="246.00,392.12 248.75,397.12 243.25,397.12" fill="#22b922"/>
<rect x="243.75" y="400.75" width="4.50" height="4.50" fill="#22b922"/>
<line x1="268.00" y1="434.00" x2="268.00" y2="441.00" stroke="#f0b37c" stroke-width="1.2"/>
<circle cx="268.00" cy="435.50" r="1.80" fill="none" stroke="#f0b37c" stroke-width="1.1"/>
<line x1="477.35" y1="418.00" x2="477.35" y2="424.00" stroke="#a12ee0" stroke-width="1.2"/>
<polygon points="477.35,416.08 479.55,418.50 477.35,420.92 475.15,418.50" fill="#a12ee0"/>
<line x1="488.25" y1="418.00" x2="488.25" y2="428.00" stroke="#f0b37c" stroke-width="1.2"/>
<circle cx="488.25" cy="419.00" r="1.80" fill="none" stroke="#f0b37c" stroke-width="1.1"/>
<circle cx="488.25" cy="431.00" r="1.80" fill="none" stroke="#f0b37c" stroke-width="1.1"/>
<line x1="139.00" y1="380.60" x2="152.80" y2="380.60" stroke="#555" stroke-width="1.1"/>
<text x="0.00" y="0.00" font-size="12.5" font-weight="bold" text-anchor="middle" fill="#222" transform="translate(148.50,382.40) scale(1,1.06)" stroke="#222" stroke-width="0.35">*</text>
<line x1="139.00" y1="369.60" x2="162.70" y2="369.60" stroke="#555" stroke-width="1.1"/>
<text x="0.00" y="0.00" font-size="12.5" font-weight="bold" text-anchor="middle" fill="#222" transform="translate(150.80,371.30) scale(1,1.06)" stroke="#222" stroke-width="0.35">*</text>
<line x1="173.60" y1="372.70" x2="187.00" y2="372.70" stroke="#555" stroke-width="1.1"/>
<text x="0.00" y="0.00" font-size="12.5" font-weight="bold" text-anchor="middle" fill="#222" transform="translate(182.40,374.60) scale(1,1.06)" stroke="#222" stroke-width="0.35">*</text>
<line x1="173.60" y1="362.30" x2="196.70" y2="362.30" stroke="#555" stroke-width="1.1"/>
<text x="0.00" y="0.00" font-size="12.5" font-weight="bold" text-anchor="middle" fill="#222" transform="translate(185.30,363.70) scale(1,1.06)" stroke="#222" stroke-width="0.35">*</text>
<line x1="212.20" y1="389.40" x2="225.80" y2="389.40" stroke="#555" stroke-width="1.1"/>
<text x="0.00" y="0.00" font-size="12.5" font-weight="bold" text-anchor="middle" fill="#222" transform="translate(221.60,391.00) scale(1,1.06)" stroke="#222" stroke-width="0.35">*</text>
<line x1="212.20" y1="379.00" x2="235.70" y2="379.00" stroke="#555" stroke-width="1.1"/>
<text x="0.00" y="0.00" font-size="12.5" font-weight="bold" text-anchor="middle" fill="#222" transform="translate(224.00,379.90) scale(1,1.06)" stroke="#222" stroke-width="0.35">*</text>
<line x1="246.30" y1="389.40" x2="259.50" y2="389.40" stroke="#555" stroke-width="1.1"/>
<text x="0.00" y="0.00" font-size="12.5" font-weight="bold" text-anchor="middle" fill="#222" transform="translate(255.40,391.00) scale(1,1.06)" stroke="#222" stroke-width="0.35">*</text>
<line x1="246.30" y1="378.40" x2="269.60" y2="378.40" stroke="#555" stroke-width="1.1"/>
<text x="0.00" y="0.00" font-size="12.5" font-weight="bold" text-anchor="middle" fill="#222" transform="translate(257.70,379.90) scale(1,1.06)" stroke="#222" stroke-width="0.35">*</text>
<line x1="361.00" y1="414.10" x2="374.00" y2="414.10" stroke="#555" stroke-width="1.1"/>
<text x="0.00" y="0.00" font-size="12.5" font-weight="bold" text-anchor="middle" fill="#222" transform="translate(369.70,416.10) scale(1,1.06)" stroke="#222" stroke-width="0.35">*</text>
<line x1="361.00" y1="403.30" x2="383.70" y2="403.30" stroke="#555" stroke-width="1.1"/>
<text x="0.00" y="0.00" font-size="12.5" font-weight="bold" text-anchor="middle" fill="#222" transform="translate(372.50,404.70) scale(1,1.06)" stroke="#222" stroke-width="0.35">*</text>
<line x1="393.30" y1="417.50" x2="406.50" y2="417.50" stroke="#555" stroke-width="1.1"/>
<text x="0.00" y="0.00" font-size="12.5" font-weight="bold" text-anchor="middle" fill="#222" transform="translate(401.60,419.40) scale(1,1.06)" stroke="#222" stroke-width="0.35">*</text>
<line x1="393.30" y1="406.50" x2="416.10" y2="406.50" stroke="#555" stroke-width="1.1"/>
<text x="0.00" y="0.00" font-size="12.5" font-weight="bold" text-anchor="middle" fill="#222" transform="translate(404.70,407.70) scale(1,1.06)" stroke="#222" stroke-width="0.35">*</text>
<circle cx="506.40" cy="361.60" r="2.62" fill="#000000"/>
<text x="0.00" y="0.00" font-size="11.6" font-weight="bold" text-anchor="start" fill="#231f20" stroke="#231f20" stroke-width="0.3" transform="translate(519.50,365.70) scale(1,1.06)">WT</text>
<rect x="504.50" y="375.30" width="3.80" height="3.80" fill="none" stroke="#ee2326" stroke-width="1.2"/>
<text x="0.00" y="0.00" font-size="11.6" font-weight="bold" text-anchor="start" fill="#231f20" stroke="#231f20" stroke-width="0.3" transform="translate(519.50,381.30) scale(1,1.06)">KO1</text>
<rect x="503.90" y="390.40" width="5.00" height="5.00" fill="#0a14f0"/>
<text x="0.00" y="0.00" font-size="11.6" font-weight="bold" text-anchor="start" fill="#231f20" stroke="#231f20" stroke-width="0.3" transform="translate(519.50,397.00) scale(1,1.06)">KO2</text>
<polygon points="506.40,405.73 509.15,410.73 503.65,410.73" fill="#22b922"/>
<text x="0.00" y="0.00" font-size="11.6" font-weight="bold" text-anchor="start" fill="#231f20" stroke="#231f20" stroke-width="0.3" transform="translate(519.50,412.70) scale(1,1.06)">WT</text>
<polygon points="506.40,421.25 508.90,424.00 506.40,426.75 503.90,424.00" fill="#a12ee0"/>
<text x="0.00" y="0.00" font-size="11.6" font-weight="bold" text-anchor="start" fill="#231f20" stroke="#231f20" stroke-width="0.3" transform="translate(519.50,428.10) scale(1,1.06)">KO1</text>
<circle cx="506.40" cy="440.00" r="2.00" fill="none" stroke="#f0b37c" stroke-width="1.1"/>
<text x="0.00" y="0.00" font-size="11.6" font-weight="bold" text-anchor="start" fill="#231f20" stroke="#231f20" stroke-width="0.3" transform="translate(519.50,444.10) scale(1,1.06)">KO2</text>
<line x1="551.90" y1="357.60" x2="551.90" y2="397.00" stroke="#222" stroke-width="1.6"/>
<line x1="551.90" y1="402.80" x2="551.90" y2="441.40" stroke="#222" stroke-width="1.6"/>
<text x="0.00" y="0.00" font-size="11.6" font-weight="bold" text-anchor="start" fill="#231f20" stroke="#231f20" stroke-width="0.3" transform="translate(556.70,385.60) scale(1,1.06)">PANC1</text>
<text x="0.00" y="0.00" font-size="11.6" font-weight="bold" text-anchor="start" fill="#231f20" stroke="#231f20" stroke-width="0.3" transform="translate(556.70,428.40) scale(1,1.06)">KPC</text>
<line x1="53.20" y1="481.00" x2="499.00" y2="481.00" stroke="#444" stroke-width="1.4"/>
<text x="0.00" y="0.00" font-size="11.8" font-weight="bold" text-anchor="middle" fill="#231f20" stroke="#231f20" stroke-width="0.3" transform="translate(278.50,495.90) scale(1,1.06)">ES-Cu/Ctrl</text>
<text x="0.00" y="0.00" font-size="15.0" font-weight="bold" text-anchor="start" fill="#000" stroke="#000" stroke-width="0.3" transform="translate(12.30,557.80) scale(1,1.06)">D</text>
<line x1="68.40" y1="711.10" x2="74.50" y2="711.10" stroke="#000" stroke-width="1.7"/>
<text x="0.00" y="0.00" font-size="11.4" font-weight="bold" text-anchor="end" fill="#231f20" stroke="#231f20" stroke-width="0.3" transform="translate(66.20,715.10) scale(1,1.06)">0</text>
<line x1="68.40" y1="689.22" x2="74.50" y2="689.22" stroke="#000" stroke-width="1.7"/>
<text x="0.00" y="0.00" font-size="11.4" font-weight="bold" text-anchor="end" fill="#231f20" stroke="#231f20" stroke-width="0.3" transform="translate(66.20,693.22) scale(1,1.06)">2</text>
<line x1="68.40" y1="667.34" x2="74.50" y2="667.34" stroke="#000" stroke-width="1.7"/>
<text x="0.00" y="0.00" font-size="11.4" font-weight="bold" text-anchor="end" fill="#231f20" stroke="#231f20" stroke-width="0.3" transform="translate(66.20,671.34) scale(1,1.06)">4</text>
<line x1="68.40" y1="645.46" x2="74.50" y2="645.46" stroke="#000" stroke-width="1.7"/>
<text x="0.00" y="0.00" font-size="11.4" font-weight="bold" text-anchor="end" fill="#231f20" stroke="#231f20" stroke-width="0.3" transform="translate(66.20,649.46) scale(1,1.06)">6</text>
<line x1="68.40" y1="623.58" x2="74.50" y2="623.58" stroke="#000" stroke-width="1.7"/>
<text x="0.00" y="0.00" font-size="11.4" font-weight="bold" text-anchor="end" fill="#231f20" stroke="#231f20" stroke-width="0.3" transform="translate(66.20,627.58) scale(1,1.06)">8</text>
<line x1="68.40" y1="601.70" x2="74.50" y2="601.70" stroke="#000" stroke-width="1.7"/>
<text x="0.00" y="0.00" font-size="11.4" font-weight="bold" text-anchor="end" fill="#231f20" stroke="#231f20" stroke-width="0.3" transform="translate(66.20,605.70) scale(1,1.06)">10</text>
<text x="0.00" y="0.00" font-size="12.1" font-weight="bold" text-anchor="middle" fill="#231f20" stroke="#231f20" stroke-width="0.3" transform="translate(45.50,655.20) rotate(-90) scale(1,1.06)">mRNA (AU)</text>
<text x="0.00" y="0.00" font-size="11.8" font-weight="bold" text-anchor="middle" fill="#231f20" stroke="#231f20" stroke-width="0.3" transform="translate(154.50,592.70) scale(1,1.06)">ES-Cu/Ctrl</text>
<rect x="80.20" y="698.52" width="9.00" height="12.58" fill="none" stroke="#000" stroke-width="1.45"/>
<rect x="95.40" y="625.88" width="9.00" height="85.22" fill="none" stroke="#000" stroke-width="1.45"/>
<rect x="110.60" y="630.47" width="9.00" height="80.63" fill="none" stroke="#000" stroke-width="1.45"/>
<rect x="136.60" y="709.79" width="8.60" height="1.31" fill="none" stroke="#ea2b2b" stroke-width="1.45"/>
<rect x="152.00" y="698.52" width="8.60" height="12.58" fill="none" stroke="#ea2b2b" stroke-width="1.45"/>
<rect x="167.40" y="697.97" width="8.60" height="13.13" fill="none" stroke="#ea2b2b" stroke-width="1.45"/>
<rect x="193.30" y="701.80" width="7.20" height="9.30" fill="none" stroke="#1010ee" stroke-width="1.45"/>
<rect x="209.10" y="639.33" width="7.20" height="71.77" fill="none" stroke="#1010ee" stroke-width="1.45"/>
<rect x="224.50" y="646.01" width="7.20" height="65.09" fill="none" stroke="#1010ee" stroke-width="1.45"/>
<circle cx="81.50" cy="698.52" r="2.94" fill="#000"/>
<circle cx="84.70" cy="698.52" r="2.94" fill="#000"/>
<circle cx="88.00" cy="698.52" r="2.94" fill="#000"/>
<circle cx="96.50" cy="625.40" r="2.94" fill="#000"/>
<circle cx="100.00" cy="628.00" r="2.94" fill="#000"/>
<circle cx="103.30" cy="625.40" r="2.94" fill="#000"/>
<circle cx="99.90" cy="630.00" r="2.94" fill="#000"/>
<line x1="115.10" y1="621.50" x2="115.10" y2="639.00" stroke="#000" stroke-width="1.4"/>
<line x1="111.50" y1="621.50" x2="118.70" y2="621.50" stroke="#000" stroke-width="1.3"/>
<circle cx="112.00" cy="623.50" r="2.94" fill="#000"/>
<circle cx="118.30" cy="624.50" r="2.94" fill="#000"/>
<circle cx="115.10" cy="639.30" r="2.94" fill="#000"/>
<rect x="135.70" y="707.80" width="4.60" height="4.60" fill="none" stroke="#ea2b2b" stroke-width="1.2"/>
<rect x="141.70" y="707.80" width="4.60" height="4.60" fill="none" stroke="#ea2b2b" stroke-width="1.2"/>
<rect x="138.70" y="707.80" width="4.60" height="4.60" fill="none" stroke="#ea2b2b" stroke-width="1.2"/>
<rect x="136.50" y="708.20" width="9.00" height="3.80" fill="#ea2b2b" stroke="none" stroke-width="1.5"/>
<rect x="151.60" y="697.30" width="4.60" height="4.60" fill="none" stroke="#ea2b2b" stroke-width="1.2"/>
<rect x="156.40" y="694.90" width="4.60" height="4.60" fill="none" stroke="#ea2b2b" stroke-width="1.2"/>
<rect x="154.20" y="695.30" width="4.60" height="4.60" fill="none" stroke="#ea2b2b" stroke-width="1.2"/>
<rect x="166.90" y="697.20" width="4.60" height="4.60" fill="none" stroke="#ea2b2b" stroke-width="1.2"/>
<rect x="171.90" y="694.50" width="4.60" height="4.60" fill="none" stroke="#ea2b2b" stroke-width="1.2"/>
<rect x="169.70" y="694.90" width="4.60" height="4.60" fill="none" stroke="#ea2b2b" stroke-width="1.2"/>
<circle cx="194.00" cy="701.25" r="2.94" fill="#1010ee"/>
<circle cx="196.90" cy="701.25" r="2.94" fill="#1010ee"/>
<circle cx="199.80" cy="701.25" r="2.94" fill="#1010ee"/>
<line x1="212.70" y1="626.00" x2="212.70" y2="650.00" stroke="#1010ee" stroke-width="1.4"/>
<line x1="208.80" y1="639.40" x2="216.60" y2="639.40" stroke="#1010ee" stroke-width="1.3"/>
<circle cx="212.70" cy="625.90" r="2.94" fill="#1010ee"/>
<circle cx="212.70" cy="637.30" r="2.94" fill="#1010ee"/>
<circle cx="212.70" cy="649.60" r="2.94" fill="#1010ee"/>
<line x1="228.10" y1="637.00" x2="228.10" y2="650.00" stroke="#1010ee" stroke-width="1.4"/>
<line x1="224.30" y1="646.40" x2="232.00" y2="646.40" stroke="#1010ee" stroke-width="1.3"/>
<circle cx="228.10" cy="637.30" r="2.94" fill="#1010ee"/>
<circle cx="231.50" cy="646.00" r="2.94" fill="#1010ee"/>
<circle cx="225.50" cy="650.20" r="2.94" fill="#1010ee"/>
<path d="M74.5,601.7 H239.0 V711.1 H68.4" fill="none" stroke="#1c1c1c" stroke-width="1.9"/>
<line x1="74.50" y1="601.70" x2="74.50" y2="711.10" stroke="#1c1c1c" stroke-width="1.9"/>
<line x1="84.70" y1="711.10" x2="84.70" y2="717.00" stroke="#000" stroke-width="1.7"/>
<text x="0.00" y="0.00" font-size="12.2" font-weight="bold" font-style="italic" text-anchor="end" fill="#231f20" stroke="#231f20" stroke-width="0.3" transform="translate(88.70,728.00) rotate(-45) scale(1,1.06)">NFE2L2</text>
<line x1="99.90" y1="711.10" x2="99.90" y2="717.00" stroke="#000" stroke-width="1.7"/>
<text x="0.00" y="0.00" font-size="12.2" font-weight="bold" font-style="italic" text-anchor="end" fill="#231f20" stroke="#231f20" stroke-width="0.3" transform="translate(103.90,728.00) rotate(-45) scale(1,1.06)">GCLM</text>
<line x1="115.10" y1="711.10" x2="115.10" y2="717.00" stroke="#000" stroke-width="1.7"/>
<text x="0.00" y="0.00" font-size="12.2" font-weight="bold" font-style="italic" text-anchor="end" fill="#231f20" stroke="#231f20" stroke-width="0.3" transform="translate(119.10,728.00) rotate(-45) scale(1,1.06)">GCLC</text>
<line x1="140.90" y1="711.10" x2="140.90" y2="717.00" stroke="#000" stroke-width="1.7"/>
<text x="0.00" y="0.00" font-size="12.2" font-weight="bold" font-style="italic" text-anchor="end" fill="#231f20" stroke="#231f20" stroke-width="0.3" transform="translate(144.90,728.00) rotate(-45) scale(1,1.06)">NFE2L2</text>
<line x1="156.30" y1="711.10" x2="156.30" y2="717.00" stroke="#000" stroke-width="1.7"/>
<text x="0.00" y="0.00" font-size="12.2" font-weight="bold" font-style="italic" text-anchor="end" fill="#231f20" stroke="#231f20" stroke-width="0.3" transform="translate(160.30,728.00) rotate(-45) scale(1,1.06)">GCLM</text>
<line x1="171.70" y1="711.10" x2="171.70" y2="717.00" stroke="#000" stroke-width="1.7"/>
<text x="0.00" y="0.00" font-size="12.2" font-weight="bold" font-style="italic" text-anchor="end" fill="#231f20" stroke="#231f20" stroke-width="0.3" transform="translate(175.70,728.00) rotate(-45) scale(1,1.06)">GCLC</text>
<line x1="196.90" y1="711.10" x2="196.90" y2="717.00" stroke="#000" stroke-width="1.7"/>
<text x="0.00" y="0.00" font-size="12.2" font-weight="bold" font-style="italic" text-anchor="end" fill="#231f20" stroke="#231f20" stroke-width="0.3" transform="translate(200.90,728.00) rotate(-45) scale(1,1.06)">NFE2L2</text>
<line x1="212.70" y1="711.10" x2="212.70" y2="717.00" stroke="#000" stroke-width="1.7"/>
<text x="0.00" y="0.00" font-size="12.2" font-weight="bold" font-style="italic" text-anchor="end" fill="#231f20" stroke="#231f20" stroke-width="0.3" transform="translate(216.70,728.00) rotate(-45) scale(1,1.06)">GCLM</text>
<line x1="228.10" y1="711.10" x2="228.10" y2="717.00" stroke="#000" stroke-width="1.7"/>
<text x="0.00" y="0.00" font-size="12.2" font-weight="bold" font-style="italic" text-anchor="end" fill="#231f20" stroke="#231f20" stroke-width="0.3" transform="translate(232.10,728.00) rotate(-45) scale(1,1.06)">GCLC</text>
<line x1="141.90" y1="686.90" x2="198.00" y2="686.90" stroke="#555" stroke-width="1.1"/>
<text x="0.00" y="0.00" font-size="13.125" font-weight="bold" text-anchor="middle" fill="#222" transform="translate(168.90,687.21) scale(1,1.06)" stroke="#222" stroke-width="0.35">*</text>
<line x1="157.20" y1="622.80" x2="210.20" y2="622.80" stroke="#555" stroke-width="1.1"/>
<text x="0.00" y="0.00" font-size="13.125" font-weight="bold" text-anchor="middle" fill="#222" transform="translate(184.70,624.91) scale(1,1.06)" stroke="#222" stroke-width="0.35">*</text>
<line x1="172.00" y1="613.70" x2="227.20" y2="613.70" stroke="#555" stroke-width="1.1"/>
<text x="0.00" y="0.00" font-size="13.125" font-weight="bold" text-anchor="middle" fill="#222" transform="translate(198.00,615.41) scale(1,1.06)" stroke="#222" stroke-width="0.35">*</text>
<circle cx="258.40" cy="631.50" r="2.84" fill="#000"/>
<text x="0.00" y="0.00" font-size="11.7" font-weight="bold" text-anchor="start" fill="#231f20" stroke="#231f20" stroke-width="0.3" transform="translate(270.50,635.80) scale(1,1.06)">WT</text>
<rect x="256.00" y="652.30" width="4.80" height="4.80" fill="none" stroke="#ea2b2b" stroke-width="1.2"/>
<text transform="translate(270.5,659.0) scale(1,1.06)" font-size="11.7" font-weight="bold" fill="#231f20" stroke="#231f20" stroke-width="0.3"><tspan font-style="italic">NFE2L2</tspan>-KO</text>
<circle cx="258.40" cy="677.80" r="2.84" fill="#1010ee"/>
<text transform="translate(270.5,682.1) scale(1,1.06)" font-size="11.7" font-weight="bold" fill="#231f20" stroke="#231f20" stroke-width="0.3">KO+<tspan font-style="italic">NFE2L2</tspan></text>
<text x="0.00" y="0.00" font-size="15.0" font-weight="bold" text-anchor="start" fill="#000" stroke="#000" stroke-width="0.3" transform="translate(391.40,561.90) scale(1,1.06)">E</text>
<defs><filter id="bl" x="-30%" y="-100%" width="160%" height="300%"><feGaussianBlur stdDeviation="0.9"/></filter><filter id="bl2" x="-30%" y="-50%" width="160%" height="200%"><feGaussianBlur stdDeviation="1.6"/></filter></defs>
<rect x="449.80" y="568.70" width="66.90" height="17.20" fill="#aaaaaa" stroke="none" stroke-width="1.5"/>
<rect x="455.00" y="575.50" width="12.00" height="3.00" rx="1.50" fill="#000" fill-opacity="0.12" filter="url(#bl)"/>
<rect x="469.30" y="575.20" width="11.00" height="3.60" rx="1.80" fill="#000" fill-opacity="0.95" filter="url(#bl)"/>
<rect x="485.00" y="575.50" width="12.00" height="3.00" rx="1.50" fill="#000" fill-opacity="0.10" filter="url(#bl)"/>
<rect x="500.00" y="575.50" width="13.00" height="3.00" rx="1.50" fill="#000" fill-opacity="0.12" filter="url(#bl)"/>
<rect x="450.50" y="569.40" width="65.50" height="15.80" fill="none" stroke="#1c1c1c" stroke-width="1.4"/>
<rect x="526.90" y="568.70" width="66.80" height="17.20" fill="#a9a9a9" stroke="none" stroke-width="1.5"/>
<rect x="533.50" y="575.50" width="11.50" height="3.00" rx="1.50" fill="#000" fill-opacity="0.10" filter="url(#bl)"/>
<rect x="549.40" y="575.20" width="10.90" height="3.60" rx="1.80" fill="#000" fill-opacity="0.97" filter="url(#bl)"/>
<rect x="563.60" y="575.50" width="12.00" height="3.00" rx="1.50" fill="#000" fill-opacity="0.10" filter="url(#bl)"/>
<rect x="578.90" y="575.50" width="12.10" height="3.00" rx="1.50" fill="#000" fill-opacity="0.10" filter="url(#bl)"/>
<rect x="527.60" y="569.40" width="65.40" height="15.80" fill="none" stroke="#1c1c1c" stroke-width="1.4"/>
<text x="0.00" y="0.00" font-size="11.9" font-weight="bold" text-anchor="start" fill="#231f20" stroke="#231f20" stroke-width="0.3" transform="translate(600.80,582.10) scale(1,1.06)">GCLC</text>
<rect x="449.80" y="591.60" width="66.90" height="17.20" fill="#a0a0a0" stroke="none" stroke-width="1.5"/>
<rect x="455.00" y="599.05" width="12.00" height="3.50" rx="1.75" fill="#000" fill-opacity="0.45" filter="url(#bl)"/>
<rect x="469.30" y="598.30" width="13.10" height="5.00" rx="2.20" fill="#000" fill-opacity="0.97" filter="url(#bl)"/>
<rect x="486.00" y="599.50" width="12.00" height="3.00" rx="1.50" fill="#000" fill-opacity="0.35" filter="url(#bl)"/>
<rect x="500.50" y="599.25" width="12.50" height="3.50" rx="1.75" fill="#000" fill-opacity="0.40" filter="url(#bl)"/>
<rect x="450.50" y="592.30" width="65.50" height="15.80" fill="none" stroke="#1c1c1c" stroke-width="1.4"/>
<rect x="526.90" y="591.60" width="66.80" height="17.20" fill="#9d9d9d" stroke="none" stroke-width="1.5"/>
<rect x="531.80" y="599.90" width="11.60" height="3.00" rx="1.50" fill="#000" fill-opacity="0.40" filter="url(#bl)"/>
<rect x="547.70" y="598.90" width="11.00" height="5.00" rx="2.20" fill="#000" fill-opacity="0.97" filter="url(#bl)"/>
<rect x="563.00" y="599.90" width="11.50" height="3.00" rx="1.50" fill="#000" fill-opacity="0.35" filter="url(#bl)"/>
<rect x="578.50" y="599.90" width="12.50" height="3.00" rx="1.50" fill="#000" fill-opacity="0.35" filter="url(#bl)"/>
<rect x="527.60" y="592.30" width="65.40" height="15.80" fill="none" stroke="#1c1c1c" stroke-width="1.4"/>
<text x="0.00" y="0.00" font-size="11.9" font-weight="bold" text-anchor="start" fill="#231f20" stroke="#231f20" stroke-width="0.3" transform="translate(600.80,605.00) scale(1,1.06)">GCLM</text>
<rect x="449.80" y="613.30" width="66.90" height="17.20" fill="#9e9e9e" stroke="none" stroke-width="1.5"/>
<rect x="450.10" y="614.30" width="3.00" height="15.20" fill="#fff" fill-opacity="0.25" filter="url(#bl)"/>
<rect x="456.40" y="616.80" width="10.80" height="5.00" rx="2.20" fill="#000" fill-opacity="0.12" filter="url(#bl2)"/>
<rect x="471.40" y="618.00" width="10.40" height="5.00" rx="2.20" fill="#000" fill-opacity="0.12" filter="url(#bl2)"/>
<rect x="486.30" y="616.80" width="11.40" height="5.00" rx="2.20" fill="#000" fill-opacity="0.12" filter="url(#bl2)"/>
<rect x="501.80" y="617.50" width="11.20" height="5.00" rx="2.20" fill="#000" fill-opacity="0.12" filter="url(#bl2)"/>
<rect x="455.40" y="620.00" width="12.80" height="6.60" rx="2.20" fill="#000" fill-opacity="0.97" filter="url(#bl)"/>
<rect x="470.40" y="622.20" width="12.40" height="4.60" rx="2.20" fill="#000" fill-opacity="0.95" filter="url(#bl)"/>
<rect x="485.30" y="620.00" width="13.40" height="6.60" rx="2.20" fill="#000" fill-opacity="0.97" filter="url(#bl)"/>
<rect x="500.80" y="620.50" width="13.20" height="7.00" rx="2.20" fill="#000" fill-opacity="0.97" filter="url(#bl)"/>
<rect x="450.50" y="614.00" width="65.50" height="15.80" fill="none" stroke="#1c1c1c" stroke-width="1.4"/>
<rect x="526.90" y="613.30" width="66.80" height="17.20" fill="#a2a2a2" stroke="none" stroke-width="1.5"/>
<rect x="530.70" y="613.80" width="11.10" height="5.00" rx="2.20" fill="#000" fill-opacity="0.12" filter="url(#bl2)"/>
<rect x="547.00" y="614.30" width="11.20" height="5.00" rx="2.20" fill="#000" fill-opacity="0.12" filter="url(#bl2)"/>
<rect x="561.30" y="613.80" width="11.70" height="5.00" rx="2.20" fill="#000" fill-opacity="0.12" filter="url(#bl2)"/>
<rect x="577.70" y="614.00" width="11.70" height="5.00" rx="2.20" fill="#000" fill-opacity="0.12" filter="url(#bl2)"/>
<rect x="529.70" y="617.30" width="13.10" height="6.00" rx="2.20" fill="#000" fill-opacity="0.97" filter="url(#bl)"/>
<rect x="546.00" y="618.30" width="13.20" height="5.00" rx="2.20" fill="#000" fill-opacity="0.65" filter="url(#bl)"/>
<rect x="560.30" y="617.30" width="13.70" height="6.00" rx="2.20" fill="#000" fill-opacity="0.97" filter="url(#bl)"/>
<rect x="576.70" y="617.75" width="13.70" height="5.50" rx="2.20" fill="#000" fill-opacity="0.85" filter="url(#bl)"/>
<rect x="527.60" y="614.00" width="65.40" height="15.80" fill="none" stroke="#1c1c1c" stroke-width="1.4"/>
<text x="0.00" y="0.00" font-size="11.9" font-weight="bold" text-anchor="start" fill="#231f20" stroke="#231f20" stroke-width="0.3" transform="translate(600.80,626.70) scale(1,1.06)">GPX4</text>
<rect x="449.80" y="636.70" width="66.90" height="17.20" fill="#8b8b8b" stroke="none" stroke-width="1.5"/>
<rect x="453.80" y="643.65" width="14.20" height="5.10" rx="2.20" fill="#000" fill-opacity="0.97" filter="url(#bl)"/>
<rect x="469.60" y="643.50" width="13.70" height="4.60" rx="2.20" fill="#000" fill-opacity="0.97" filter="url(#bl)"/>
<rect x="485.00" y="643.30" width="13.10" height="5.00" rx="2.20" fill="#000" fill-opacity="0.97" filter="url(#bl)"/>
<rect x="499.20" y="644.40" width="12.60" height="4.20" rx="2.10" fill="#000" fill-opacity="0.92" filter="url(#bl)"/>
<rect x="450.50" y="637.40" width="65.50" height="15.80" fill="none" stroke="#1c1c1c" stroke-width="1.4"/>
<rect x="526.90" y="636.70" width="66.80" height="17.20" fill="#8e8e8e" stroke="none" stroke-width="1.5"/>
<rect x="531.30" y="642.45" width="13.10" height="4.50" rx="2.20" fill="#000" fill-opacity="0.60" filter="url(#bl)"/>
<rect x="546.00" y="642.30" width="14.30" height="4.80" rx="2.20" fill="#000" fill-opacity="0.65" filter="url(#bl)"/>
<rect x="562.00" y="642.90" width="12.60" height="4.00" rx="2.00" fill="#000" fill-opacity="0.60" filter="url(#bl)"/>
<rect x="577.30" y="642.45" width="12.60" height="4.50" rx="2.20" fill="#000" fill-opacity="0.65" filter="url(#bl)"/>
<rect x="527.60" y="637.40" width="65.40" height="15.80" fill="none" stroke="#1c1c1c" stroke-width="1.4"/>
<text x="0.00" y="0.00" font-size="11.9" font-weight="bold" text-anchor="start" fill="#231f20" stroke="#231f20" stroke-width="0.3" transform="translate(600.80,650.10) scale(1,1.06)">SLC7A11</text>
<rect x="449.80" y="659.40" width="66.90" height="17.20" fill="#b0b0b0" stroke="none" stroke-width="1.5"/>
<rect x="470.00" y="659.90" width="14.50" height="16.20" rx="2.20" fill="#000" fill-opacity="0.38" filter="url(#bl)"/>
<rect x="485.50" y="659.90" width="14.00" height="16.20" rx="2.20" fill="#000" fill-opacity="0.16" filter="url(#bl)"/>
<rect x="501.00" y="659.90" width="14.50" height="16.20" rx="2.20" fill="#000" fill-opacity="0.20" filter="url(#bl)"/>
<rect x="450.25" y="660.40" width="2.50" height="15.20" fill="#fff" fill-opacity="0.45" filter="url(#bl)"/>
<rect x="467.90" y="660.40" width="1.80" height="15.20" fill="#fff" fill-opacity="0.5" filter="url(#bl)"/>
<rect x="483.50" y="660.40" width="1.80" height="15.20" fill="#fff" fill-opacity="0.5" filter="url(#bl)"/>
<rect x="499.10" y="660.40" width="1.80" height="15.20" fill="#fff" fill-opacity="0.5" filter="url(#bl)"/>
<rect x="455.00" y="667.20" width="12.00" height="3.00" rx="1.50" fill="#000" fill-opacity="0.30" filter="url(#bl)"/>
<rect x="470.00" y="667.30" width="13.00" height="5.00" rx="2.20" fill="#000" fill-opacity="0.50" filter="url(#bl)"/>
<rect x="486.00" y="668.25" width="12.00" height="3.50" rx="1.75" fill="#000" fill-opacity="0.30" filter="url(#bl)"/>
<rect x="501.00" y="668.00" width="12.00" height="4.00" rx="2.00" fill="#000" fill-opacity="0.35" filter="url(#bl)"/>
<rect x="450.50" y="660.10" width="65.50" height="15.80" fill="none" stroke="#1c1c1c" stroke-width="1.4"/>
<rect x="526.90" y="659.40" width="66.80" height="17.20" fill="#acacac" stroke="none" stroke-width="1.5"/>
<rect x="563.50" y="659.90" width="14.00" height="16.20" rx="2.20" fill="#000" fill-opacity="0.45" filter="url(#bl)"/>
<rect x="547.00" y="660.90" width="14.00" height="14.20" rx="2.20" fill="#000" fill-opacity="0.12" filter="url(#bl2)"/>
<rect x="544.60" y="660.40" width="1.80" height="15.20" fill="#fff" fill-opacity="0.45" filter="url(#bl)"/>
<rect x="561.55" y="660.40" width="1.50" height="15.20" fill="#fff" fill-opacity="0.3" filter="url(#bl)"/>
<rect x="533.00" y="668.30" width="12.00" height="3.00" rx="1.50" fill="#000" fill-opacity="0.25" filter="url(#bl)"/>
<rect x="548.00" y="667.55" width="12.00" height="4.50" rx="2.20" fill="#000" fill-opacity="0.65" filter="url(#bl)"/>
<rect x="564.00" y="668.05" width="12.00" height="3.50" rx="1.75" fill="#000" fill-opacity="0.35" filter="url(#bl)"/>
<rect x="579.00" y="667.55" width="12.00" height="3.50" rx="1.75" fill="#000" fill-opacity="0.35" filter="url(#bl)"/>
<rect x="527.60" y="660.10" width="65.40" height="15.80" fill="none" stroke="#1c1c1c" stroke-width="1.4"/>
<text x="0.00" y="0.00" font-size="11.9" font-weight="bold" text-anchor="start" fill="#231f20" stroke="#231f20" stroke-width="0.3" transform="translate(600.80,672.80) scale(1,1.06)">NQO1</text>
<rect x="449.80" y="682.40" width="66.90" height="17.20" fill="#a9a9a9" stroke="none" stroke-width="1.5"/>
<rect x="450.25" y="683.40" width="4.50" height="15.20" fill="#fff" fill-opacity="0.4" filter="url(#bl)"/>
<rect x="468.75" y="683.40" width="1.50" height="15.20" fill="#fff" fill-opacity="0.3" filter="url(#bl)"/>
<rect x="484.45" y="683.40" width="1.50" height="15.20" fill="#fff" fill-opacity="0.3" filter="url(#bl)"/>
<rect x="456.50" y="687.90" width="12.50" height="4.20" rx="2.10" fill="#000" fill-opacity="0.75" filter="url(#bl)"/>
<rect x="470.30" y="687.80" width="14.00" height="5.40" rx="2.20" fill="#000" fill-opacity="0.97" filter="url(#bl)"/>
<rect x="486.50" y="688.60" width="12.30" height="4.40" rx="2.20" fill="#000" fill-opacity="0.75" filter="url(#bl)"/>
<rect x="501.20" y="688.10" width="12.80" height="5.40" rx="2.20" fill="#000" fill-opacity="0.97" filter="url(#bl)"/>
<rect x="450.50" y="683.10" width="65.50" height="15.80" fill="none" stroke="#1c1c1c" stroke-width="1.4"/>
<rect x="526.90" y="682.40" width="66.80" height="17.20" fill="#a5a5a5" stroke="none" stroke-width="1.5"/>
<rect x="545.05" y="683.40" width="1.50" height="15.20" fill="#fff" fill-opacity="0.3" filter="url(#bl)"/>
<rect x="562.05" y="683.40" width="1.50" height="15.20" fill="#fff" fill-opacity="0.35" filter="url(#bl)"/>
<rect x="531.50" y="689.70" width="13.00" height="5.00" rx="2.20" fill="#000" fill-opacity="0.85" filter="url(#bl)"/>
<rect x="547.30" y="689.20" width="14.00" height="6.00" rx="2.20" fill="#000" fill-opacity="0.97" filter="url(#bl)"/>
<rect x="564.30" y="689.90" width="11.20" height="5.00" rx="2.20" fill="#000" fill-opacity="0.80" filter="url(#bl)"/>
<rect x="578.80" y="689.00" width="12.20" height="6.00" rx="2.20" fill="#000" fill-opacity="0.95" filter="url(#bl)"/>
<rect x="527.60" y="683.10" width="65.40" height="15.80" fill="none" stroke="#1c1c1c" stroke-width="1.4"/>
<text x="0.00" y="0.00" font-size="11.9" font-weight="bold" text-anchor="start" fill="#231f20" stroke="#231f20" stroke-width="0.3" transform="translate(600.80,695.80) scale(1,1.06)">FTH1</text>
<rect x="449.80" y="705.30" width="66.90" height="17.20" fill="#b0b0b0" stroke="none" stroke-width="1.5"/>
<rect x="453.50" y="712.50" width="11.50" height="3.00" rx="1.50" fill="#000" fill-opacity="0.18" filter="url(#bl)"/>
<rect x="468.70" y="711.85" width="13.60" height="4.30" rx="2.15" fill="#000" fill-opacity="0.97" filter="url(#bl)"/>
<rect x="450.50" y="706.00" width="65.50" height="15.80" fill="none" stroke="#1c1c1c" stroke-width="1.4"/>
<rect x="526.90" y="705.30" width="66.80" height="17.20" fill="#ababab" stroke="none" stroke-width="1.5"/>
<rect x="531.00" y="712.75" width="11.00" height="2.50" rx="1.25" fill="#000" fill-opacity="0.18" filter="url(#bl)"/>
<rect x="546.30" y="711.75" width="13.20" height="4.50" rx="2.20" fill="#000" fill-opacity="0.98" filter="url(#bl)"/>
<rect x="527.60" y="706.00" width="65.40" height="15.80" fill="none" stroke="#1c1c1c" stroke-width="1.4"/>
<text x="0.00" y="0.00" font-size="11.9" font-weight="bold" text-anchor="start" fill="#231f20" stroke="#231f20" stroke-width="0.3" transform="translate(600.80,718.70) scale(1,1.06)">NFE2L2</text>
<rect x="449.80" y="729.00" width="66.90" height="17.20" fill="#959595" stroke="none" stroke-width="1.5"/>
<rect x="455.00" y="736.55" width="12.00" height="3.50" rx="1.75" fill="#000" fill-opacity="0.55" filter="url(#bl)"/>
<rect x="470.00" y="736.25" width="13.00" height="3.50" rx="1.75" fill="#000" fill-opacity="0.55" filter="url(#bl)"/>
<rect x="485.50" y="735.75" width="12.00" height="3.50" rx="1.75" fill="#000" fill-opacity="0.55" filter="url(#bl)"/>
<rect x="500.50" y="735.10" width="11.50" height="3.20" rx="1.60" fill="#000" fill-opacity="0.50" filter="url(#bl)"/>
<rect x="450.50" y="729.70" width="65.50" height="15.80" fill="none" stroke="#1c1c1c" stroke-width="1.4"/>
<rect x="526.90" y="729.00" width="66.80" height="17.20" fill="#989898" stroke="none" stroke-width="1.5"/>
<rect x="532.00" y="736.05" width="13.00" height="3.50" rx="1.75" fill="#000" fill-opacity="0.50" filter="url(#bl)"/>
<rect x="547.50" y="736.05" width="13.50" height="3.50" rx="1.75" fill="#000" fill-opacity="0.45" filter="url(#bl)"/>
<rect x="563.00" y="736.05" width="12.50" height="3.50" rx="1.75" fill="#000" fill-opacity="0.45" filter="url(#bl)"/>
<rect x="578.00" y="736.05" width="13.00" height="3.50" rx="1.75" fill="#000" fill-opacity="0.50" filter="url(#bl)"/>
<rect x="527.60" y="729.70" width="65.40" height="15.80" fill="none" stroke="#1c1c1c" stroke-width="1.4"/>
<text x="0.00" y="0.00" font-size="11.9" font-weight="bold" text-anchor="start" fill="#231f20" stroke="#231f20" stroke-width="0.3" transform="translate(600.80,742.40) scale(1,1.06)">ACTB</text>
<text x="0.00" y="0.00" font-size="11.9" font-weight="bold" text-anchor="middle" fill="#231f20" stroke="#231f20" stroke-width="0.3" transform="translate(484.90,563.10) scale(1,1.06)">PANC1</text>
<text x="0.00" y="0.00" font-size="11.9" font-weight="bold" text-anchor="middle" fill="#231f20" stroke="#231f20" stroke-width="0.3" transform="translate(563.80,563.10) scale(1,1.06)">KPC</text>
<text x="0.00" y="0.00" font-size="12.0" font-weight="bold" text-anchor="start" fill="#231f20" stroke="#231f20" stroke-width="0.3" transform="translate(415.60,760.90) scale(1,1.06)">ES-Cu</text>
<text x="0.00" y="0.00" font-size="12.0" font-weight="bold" text-anchor="middle" fill="#231f20" stroke="#231f20" stroke-width="0.3" transform="translate(460.30,761.50) scale(1,1.06)">-</text>
<text x="0.00" y="0.00" font-size="12.0" font-weight="bold" text-anchor="middle" fill="#231f20" stroke="#231f20" stroke-width="0.3" transform="translate(475.50,761.50) scale(1,1.06)">+</text>
<text x="0.00" y="0.00" font-size="12.0" font-weight="bold" text-anchor="middle" fill="#231f20" stroke="#231f20" stroke-width="0.3" transform="translate(491.50,761.50) scale(1,1.06)">-</text>
<text x="0.00" y="0.00" font-size="12.0" font-weight="bold" text-anchor="middle" fill="#231f20" stroke="#231f20" stroke-width="0.3" transform="translate(507.00,761.50) scale(1,1.06)">+</text>
<text x="0.00" y="0.00" font-size="12.0" font-weight="bold" text-anchor="middle" fill="#231f20" stroke="#231f20" stroke-width="0.3" transform="translate(539.70,761.50) scale(1,1.06)">-</text>
<text x="0.00" y="0.00" font-size="12.0" font-weight="bold" text-anchor="middle" fill="#231f20" stroke="#231f20" stroke-width="0.3" transform="translate(555.20,761.50) scale(1,1.06)">+</text>
<text x="0.00" y="0.00" font-size="12.0" font-weight="bold" text-anchor="middle" fill="#231f20" stroke="#231f20" stroke-width="0.3" transform="translate(571.20,761.50) scale(1,1.06)">-</text>
<text x="0.00" y="0.00" font-size="12.0" font-weight="bold" text-anchor="middle" fill="#231f20" stroke="#231f20" stroke-width="0.3" transform="translate(587.00,761.50) scale(1,1.06)">+</text>
<line x1="455.60" y1="769.50" x2="485.70" y2="769.50" stroke="#333" stroke-width="1.5"/>
<line x1="487.70" y1="769.50" x2="517.80" y2="769.50" stroke="#333" stroke-width="1.5"/>
<line x1="530.40" y1="769.50" x2="560.10" y2="769.50" stroke="#333" stroke-width="1.5"/>
<line x1="562.20" y1="769.50" x2="593.70" y2="769.50" stroke="#333" stroke-width="1.5"/>
<text x="0.00" y="0.00" font-size="12.0" font-weight="bold" text-anchor="middle" fill="#231f20" stroke="#231f20" stroke-width="0.3" transform="translate(471.10,782.60) scale(1,1.06)">WT</text>
<text x="0.00" y="0.00" font-size="12.0" font-weight="bold" text-anchor="middle" fill="#231f20" stroke="#231f20" stroke-width="0.3" transform="translate(503.20,782.60) scale(1,1.06)">KO</text>
<text x="0.00" y="0.00" font-size="12.0" font-weight="bold" text-anchor="middle" fill="#231f20" stroke="#231f20" stroke-width="0.3" transform="translate(546.10,782.60) scale(1,1.06)">WT</text>
<text x="0.00" y="0.00" font-size="12.0" font-weight="bold" text-anchor="middle" fill="#231f20" stroke="#231f20" stroke-width="0.3" transform="translate(577.70,782.60) scale(1,1.06)">KO</text>
</svg></body></html>
